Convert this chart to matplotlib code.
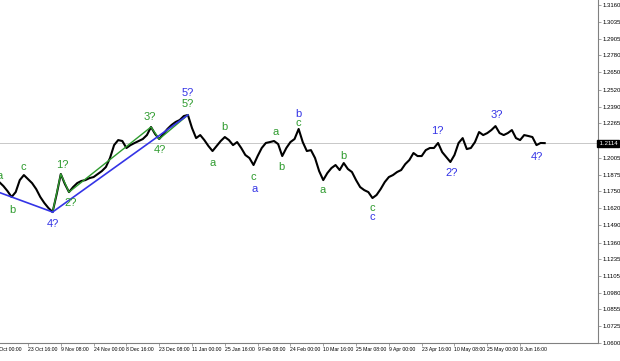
import numpy as np
import matplotlib.pyplot as plt
from matplotlib.transforms import blended_transform_factory

# EURUSD H4, closes every 8 bars (starting 9 Oct 00:00)
close = [
    1.1819, 1.1789, 1.1751, 1.1706, 1.1743, 1.1834, 1.1872, 1.1842, 1.1811, 1.1766,
    1.1706, 1.1660, 1.1622, 1.1592, 1.1728, 1.1880, 1.1804, 1.1743, 1.1781, 1.1811,
    1.1827, 1.1834, 1.1849, 1.1857, 1.1880, 1.1902, 1.1933, 1.2001, 1.2099, 1.2137,
    1.2130, 1.2077, 1.2099, 1.2115, 1.2130, 1.2145, 1.2175, 1.2236, 1.2183, 1.2145,
    1.2183, 1.2221, 1.2251, 1.2274, 1.2289, 1.2319, 1.2327, 1.2228, 1.2152, 1.2175,
    1.2137, 1.2092, 1.2054, 1.2092, 1.2130, 1.2160, 1.2137, 1.2099, 1.2122, 1.2077,
    1.2024, 1.2001, 1.1948, 1.2016, 1.2077, 1.2115, 1.2122, 1.2130, 1.2107, 1.2016,
    1.2077, 1.2122, 1.2145, 1.2221, 1.2122, 1.2054, 1.2061, 1.2001, 1.1902, 1.1834,
    1.1887, 1.1925, 1.1948, 1.1910, 1.1963, 1.1918, 1.1895, 1.1834, 1.1781, 1.1758,
    1.1743, 1.1698, 1.1721, 1.1766, 1.1819, 1.1857, 1.1872, 1.1895, 1.1910, 1.1955,
    1.1986, 1.2039, 1.2016, 1.2016, 1.2061, 1.2077, 1.2077, 1.2115, 1.2046, 1.2008,
    1.1971, 1.2024, 1.2115, 1.2152, 1.2069, 1.2077, 1.2122, 1.2198, 1.2175, 1.2190,
    1.2213, 1.2243, 1.2190, 1.2175, 1.2190, 1.2213, 1.2152, 1.2137, 1.2175, 1.2168,
    1.2160, 1.2099, 1.2115, 1.2114,
]
step = 8          # H4 bars between two readings
last_price = 1.2114

time_labels = [
    "9 Oct 00:00", "23 Oct 16:00", "9 Nov 08:00", "24 Nov 00:00", "8 Dec 16:00",
    "23 Dec 08:00", "11 Jan 00:00", "25 Jan 16:00", "9 Feb 08:00", "24 Feb 00:00",
    "10 Mar 16:00", "25 Mar 08:00", "9 Apr 00:00", "23 Apr 16:00", "10 May 08:00",
    "25 May 00:00", "8 Jun 16:00",
]
label_every = 64  # bars

price_labels = [
    "1.3160", "1.3035", "1.2905", "1.2780", "1.2650", "1.2520", "1.2390", "1.2265",
    "1.2005", "1.1875", "1.1750", "1.1620", "1.1490", "1.1360", "1.1235", "1.1105",
    "1.0980", "1.0855", "1.0725", "1.0600",
]

GREEN = "#2e9b2e"
BLUE = "#3434e6"

# wave marks: (reading index, text, colour, dx px, dy px)
waves = [
    (0, "a", GREEN, 0, 6), (3, "b", GREEN, 1, -13), (6, "c", GREEN, -1, 8),
    (13, "4?", BLUE, 0, -12), (15, "1?", GREEN, 2, 9), (17, "2?", GREEN, 2, -11),
    (37, "3?", GREEN, -1, 10), (39, "4?", GREEN, 1, -11),
    (46, "5?", BLUE, 0, 22), (46, "5?", GREEN, 0, 11),
    (52, "a", GREEN, 0, -12), (55, "b", GREEN, 0, 10),
    (62, "c", GREEN, 0, -12), (62, "a", BLUE, 1, -24),
    (67, "a", GREEN, 2, 9), (69, "b", GREEN, -1, -11),
    (73, "b", BLUE, 0, 15), (73, "c", GREEN, 0, 6),
    (79, "a", GREEN, -1, -10), (84, "b", GREEN, 0, 7),
    (91, "c", GREEN, 0, -10), (91, "c", BLUE, 0, -19),
    (107, "1?", BLUE, -1, 12), (110, "2?", BLUE, 1, -11),
    (121, "3?", BLUE, 1, 11), (131, "4?", BLUE, 0, -12),
]
green_path = [13, 15, 17, 37, 39, 46]
blue_path = [3, 13, 46]

close = np.array(close)
bars = np.arange(1, len(close) + 1) * step

fig = plt.figure(figsize=(6.2, 3.61), dpi=100)
ax = fig.add_axes([-8 / 620, 18 / 361, 606 / 620, 343 / 361])
x_left, x_right = -6.2, 1176
ax.set_xlim(x_left, x_right)
ax.set_ylim(1.0600, 1.3198)

ax.axhline(last_price, color="#c8c8c8", lw=0.7, zorder=1)
ax.plot(bars, close, color="black", lw=1.5, zorder=2)

# wave lines
gx = bars[green_path]
ax.plot(gx, close[green_path], color=GREEN, lw=1.0, zorder=3)
bx = bars[blue_path]
by = close[blue_path]
slope = (by[1] - by[0]) / (bx[1] - bx[0])
ax.plot([x_left, bx[1]], [by[1] + slope * (x_left - bx[1]), by[1]], color=BLUE, lw=1.2, zorder=3)
ax.plot(bx[1:], by[1:], color=BLUE, lw=1.2, zorder=3)

for i, txt, col, dx, dy in waves:
    ax.annotate(txt, (bars[i], close[i]), xytext=(dx, dy), textcoords="offset pixels",
                ha="center", va="center", color=col, fontsize=8,
                family="Liberation Sans", zorder=4, annotation_clip=False)

# axes in terminal style
for s in ("left", "top"):
    ax.spines[s].set_visible(False)
for s in ("right", "bottom"):
    ax.spines[s].set_color("#808080")
    ax.spines[s].set_linewidth(0.8)

ax.yaxis.tick_right()
ax.set_yticks([float(v) for v in price_labels])
ax.set_yticklabels(price_labels)
ax.set_xticks(np.arange(len(time_labels)) * label_every)
ax.set_xticklabels(time_labels)
ax.tick_params(axis="both", length=2, width=0.5, color="#808080", labelsize=4.3, pad=1)
for lab in ax.get_xticklabels():
    lab.set_horizontalalignment("left")
    lab.set_family("Liberation Sans")
    lab.set_fontsize(3.7)
for lab in ax.get_yticklabels():
    lab.set_family("Liberation Sans")

tr = blended_transform_factory(ax.transAxes, ax.transData)
ax.text(1.0, last_price, " " + f"{last_price:.4f}", transform=tr, ha="left", va="center",
        fontsize=4.3, color="white", family="Liberation Sans",
        bbox=dict(boxstyle="square,pad=0.15", fc="black", ec="black"))

fig.savefig("out.png", dpi=100)
